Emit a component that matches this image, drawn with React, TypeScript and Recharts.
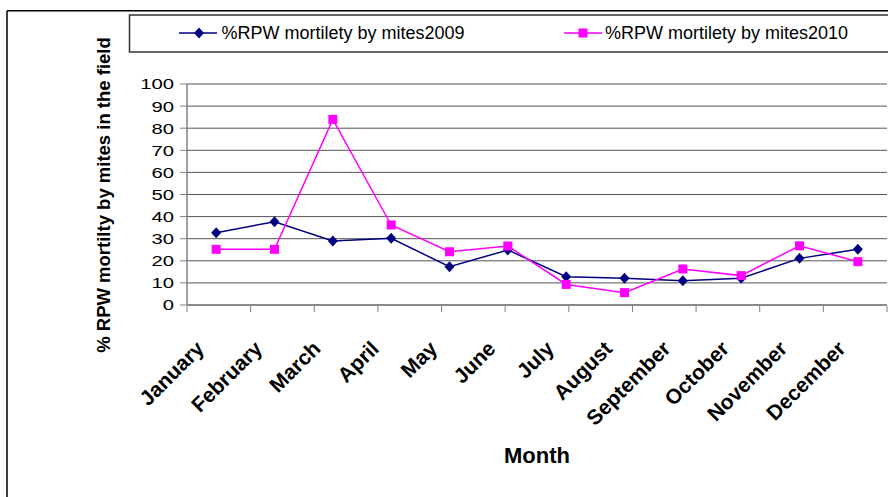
import React from 'react';
import { LineChart, Line, XAxis, YAxis, CartesianGrid } from 'recharts';

const months = ['January', 'February', 'March', 'April', 'May', 'June', 'July', 'August', 'September', 'October', 'November', 'December'];
const mites2009 = [32.7, 37.7, 29.0, 30.2, 17.3, 24.9, 12.8, 12.1, 11.0, 12.1, 21.1, 25.2];
const mites2010 = [25.2, 25.2, 84.0, 36.2, 24.1, 26.7, 9.3, 5.6, 16.3, 13.3, 26.8, 19.6];
const seriesNames = ['%RPW mortilety by mites2009', '%RPW mortilety by mites2010'];
const yTicks = [0, 10, 20, 30, 40, 50, 60, 70, 80, 90, 100];
const monthEdges = [0, 1, 2, 3, 4, 5, 6, 7, 8, 9, 10, 11, 12];
const yTitle = '% RPW mortilty by mites in the field';
const xTitle = 'Month';

const data = months.map((m, i) => ({ month: m, y2009: mites2009[i], y2010: mites2010[i] }));

const FONT = '"Liberation Sans", Arial, sans-serif';
const NAVY = '#000080';
const PINK = '#FF00FF';
const AXIS = '#808080';

const Diamond = (p: any) => {
  const { cx, cy } = p;
  if (cx == null || cy == null) return null;
  return <path d={`M${cx},${cy - 5.5}L${cx + 5},${cy}L${cx},${cy + 5.5}L${cx - 5},${cy}Z`} fill={NAVY} />;
};

const Square = (p: any) => {
  const { cx, cy } = p;
  if (cx == null || cy == null) return null;
  return <rect x={cx - 4.5} y={cy - 4.5} width={9} height={9} fill={PINK} />;
};

const YTick = (p: any) => (
  <text
    transform={`translate(${p.x},${p.y}) scale(1.35,1)`}
    textAnchor="end"
    dy="0.36em"
    fontSize={15}
    fontFamily={FONT}
    fill="#000"
  >
    {p.payload.value}
  </text>
);

const XTick = (p: any) => (
  <text
    transform={`translate(${p.x - 11},${p.y + 45}) rotate(-45)`}
    textAnchor="end"
    fontSize={21}
    fontWeight="bold"
    fontFamily={FONT}
    fill="#000"
  >
    {p.payload.value}
  </text>
);

const YTitle = () => (
  <text transform="translate(110,195) rotate(-90)" textAnchor="middle" fontSize={18.5} fontWeight="bold" fontFamily={FONT} fill="#000">
    {yTitle}
  </text>
);

const XTitle = () => (
  <text x={537} y={463} textAnchor="middle" fontSize={22} fontWeight="bold" fontFamily={FONT} fill="#000">
    {xTitle}
  </text>
);

const Overlay = () => (
  <svg width={888} height={497} style={{ position: 'absolute', left: 0, top: 0, pointerEvents: 'none' }}>
    {/* chart area border */}
    <line x1={7} y1={10.7} x2={7} y2={497} stroke="#000" strokeWidth={1.5} />
    <line x1={7} y1={10.7} x2={888} y2={10.7} stroke="#000" strokeWidth={1.5} />
    {/* legend */}
    <rect x={129.5} y={15} width={770} height={37} fill="#fff" stroke="#333" strokeWidth={1.5} />
    <line x1={179} y1={33} x2={217} y2={33} stroke={NAVY} strokeWidth={1.5} />
    <Diamond cx={199} cy={33} />
    <text x={221.5} y={39.3} fontSize={18} fontFamily={FONT} fill="#000">{seriesNames[0]}</text>
    <line x1={564} y1={33} x2={602} y2={33} stroke={PINK} strokeWidth={1.5} />
    <Square cx={583} cy={33} />
    <text x={605} y={39.3} fontSize={18} fontFamily={FONT} fill="#000">{seriesNames[1]}</text>
    {/* x axis title */}
    <XTitle />
  </svg>
);

export default function App() {
  return (
    <div style={{ position: 'absolute', left: 0, top: 0, width: 888, height: 497, background: '#fff', overflow: 'hidden' }}>
      <div style={{ position: 'absolute', left: 0, top: 0 }}>
        <LineChart width={888} height={497} data={data} margin={{ top: 84, right: 1, bottom: 0, left: 0 }}>
          <CartesianGrid vertical={false} stroke="#555" />
          <XAxis
            dataKey="month"
            scale="band"
            height={1}
            interval={0}
            axisLine={{ stroke: AXIS, strokeWidth: 1.5 }}
            tickLine={false}
            tickSize={0}
            tickMargin={0}
            tick={<XTick />}
          />
          <XAxis
            xAxisId="edges"
            type="number"
            domain={[0, 12]}
            ticks={monthEdges}
            allowDataOverflow
            height={191}
            interval={0}
            tickSize={6}
            axisLine={false}
            tickLine={{ stroke: AXIS }}
            tick={() => <g />}
          />
          <YAxis
            domain={[0, 100]}
            ticks={yTicks}
            interval={0}
            width={187}
            tickSize={7}
            tickMargin={6}
            axisLine={{ stroke: AXIS, strokeWidth: 1.5 }}
            tickLine={{ stroke: AXIS }}
            tick={<YTick />}
            label={<YTitle />}
          />
          <Line dataKey="y2009" type="linear" stroke={NAVY} strokeWidth={1.5} dot={<Diamond />} activeDot={false} isAnimationActive={false} />
          <Line dataKey="y2010" type="linear" stroke={PINK} strokeWidth={1.5} dot={<Square />} activeDot={false} isAnimationActive={false} />
        </LineChart>
      </div>
      <Overlay />
    </div>
  );
}
